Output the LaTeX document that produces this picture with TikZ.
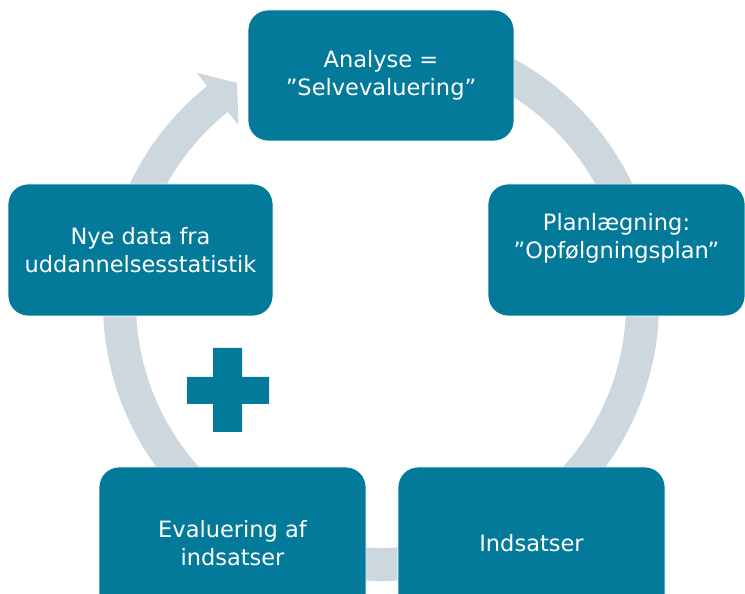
\documentclass[tikz,border=0pt]{standalone}
\usepackage{fontspec}
\setmainfont{DejaVu Sans}
\definecolor{cyTeal}{HTML}{037A9A}
\definecolor{cyRing}{HTML}{CDD7DE}
\usetikzlibrary{calc}
\tikzset{
  stepbox/.style={fill=cyTeal, draw=white, line width=0.8pt, rounded corners=20pt,
    text=white, align=center, inner sep=0pt, font=\fontsize{22.5}{28}\selectfont},
}

\begin{document}
\begin{tikzpicture}[x=1pt, y=1pt]
  \clip (0,0) rectangle (745,594);
  \useasboundingbox (0,0) rectangle (745,594);
  \coordinate (hub) at (381,291);
  % Cycle ring, ending in the arrow head at top left
  \draw[cyRing, line width=33pt] ($(hub)+(100:261.5)$) arc[start angle=100, end angle=-231.6, radius=261.5];
  \fill[cyRing] ($(hub)+(128.7:228)$) -- ($(hub)+(123.2:263)$) -- ($(hub)+(128.7:295)$) -- cycle;
  % Process steps
  \node[stepbox, minimum width=266pt, minimum height=131pt] (analyse) at (381,518.5) {Analyse =\\”Selvevaluering”};
  \node[stepbox, minimum width=257pt, minimum height=132pt] (plan) at (616.5,344) {Planlægning:\\”Opfølgningsplan”\\\mbox{}};
  \node[stepbox, minimum width=267pt, minimum height=153pt] (indsats) at (531.5,50.5) {Indsatser};
  \node[stepbox, minimum width=267pt, minimum height=153pt] (evaluering) at (232.5,50.5) {Evaluering af\\indsatser};
  \node[stepbox, minimum width=265pt, minimum height=132pt] (data) at (140.5,344) {Nye data fra\\uddannelsesstatistik};
  % Plus sign
  \fill[cyTeal] (213,162) rectangle +(29,84) (187,190) rectangle +(82,27);
\end{tikzpicture}
\end{document}
